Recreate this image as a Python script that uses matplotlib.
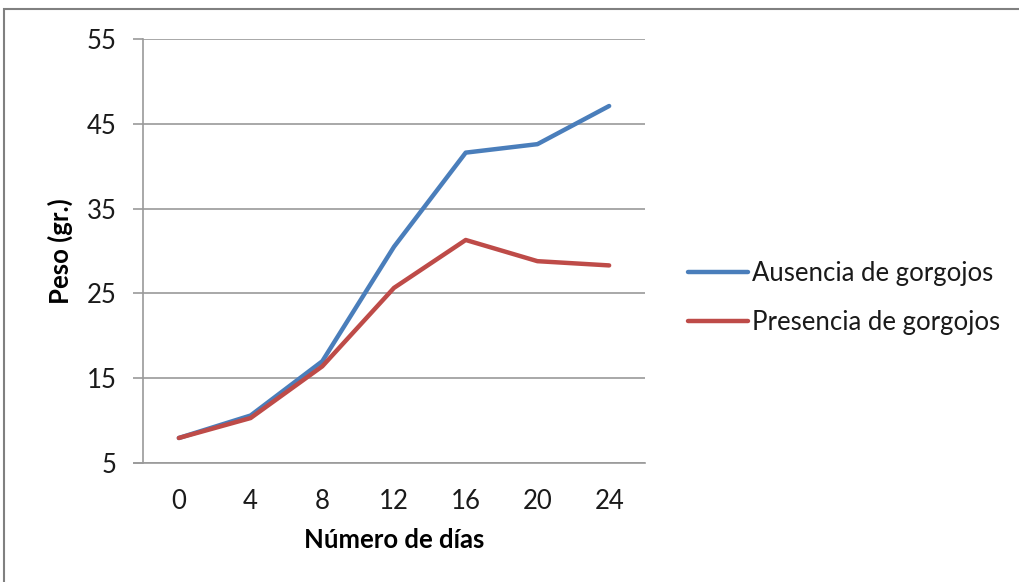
import matplotlib
matplotlib.use("Agg")
import matplotlib.pyplot as plt
from matplotlib.patches import Rectangle

days = ["0", "4", "8", "12", "16", "20", "24"]
ausencia = [7.95, 10.6, 17.0, 30.5, 41.6, 42.6, 47.1]
presencia = [7.95, 10.3, 16.4, 25.65, 31.3, 28.8, 28.3]
yticks = [5, 15, 25, 35, 45, 55]

plt.rcParams['font.family'] = ['Lato', 'DejaVu Sans']

W, H = 1020, 582
fig = plt.figure(figsize=(W / 100, H / 100), dpi=100)
fig.patch.set_facecolor('white')

# outer chart border
fig.add_artist(Rectangle((4.5 / W, -0.1), 1.2, 1 - 8.5 / H + 0.1, transform=fig.transFigure,
                         fill=False, edgecolor='#808080', linewidth=1.5))

ax = fig.add_axes([143 / W, 1 - 463 / H, (645 - 143) / W, (463 - 39) / H])
x = list(range(len(days)))
ax.plot(x, ausencia, color='#4A7EBB', linewidth=3.2, solid_capstyle='round', solid_joinstyle='round',
        label='Ausencia de gorgojos')
ax.plot(x, presencia, color='#BE4B48', linewidth=3.2, solid_capstyle='round', solid_joinstyle='round',
        label='Presencia de gorgojos')

FS = 18.5
ax.set_xlim(-0.5, len(days) - 0.5)
ax.set_ylim(5, 55)
ax.set_yticks(yticks)
ax.set_yticklabels([str(v) for v in yticks], fontsize=FS, color='#1a1a1a')
ax.set_xticks(x)
ax.set_xticklabels(days, fontsize=FS, color='#1a1a1a')
ax.tick_params(axis='x', length=0, pad=19)
ax.tick_params(axis='y', length=7, width=1.2, color='#9a9a9a', pad=12)
ax.grid(axis='y', color='#9a9a9a', linewidth=1.2)
ax.set_axisbelow(True)
for s in ['top', 'right']:
    ax.spines[s].set_visible(False)
ax.spines['left'].set_color('#9a9a9a')
ax.spines['left'].set_linewidth(1.2)
ax.spines['bottom'].set_visible(False)
ax.axhline(5, color='#9a9a9a', linewidth=1.2, xmin=-9 / 502, xmax=1, clip_on=False)

ax.set_xlabel('Número de días', fontsize=FS, fontweight='bold', labelpad=10)
ax.set_ylabel('Peso (gr.)', fontsize=FS, fontweight='bold')
ax.yaxis.set_label_coords(-0.139, 0.5)

leg = ax.legend(loc='center left', bbox_to_anchor=(688 / W, 1 - 298 / H), bbox_transform=fig.transFigure,
                frameon=False, fontsize=FS, handlelength=2.35, handletextpad=0.15, labelspacing=0.92,
                borderaxespad=0, borderpad=0)
for t in leg.get_texts():
    t.set_color('#1a1a1a')

fig.savefig('out.png', dpi=100, facecolor='white')
